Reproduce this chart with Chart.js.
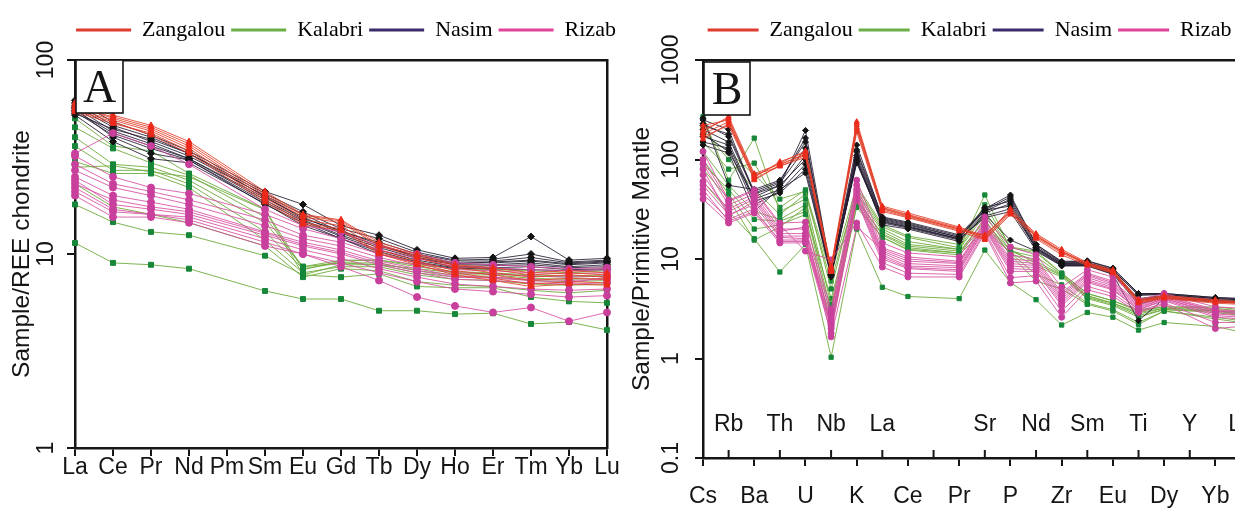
<!DOCTYPE html>
<html>
<head>
<meta charset="utf-8">
<script src="https://cdn.jsdelivr.net/npm/chart.js@4.4.0/dist/chart.umd.min.js"></script>
<style>
  html, body { margin: 0; padding: 0; background: #fff; overflow: hidden; }
  body { width: 1235px; height: 509px; position: relative; }
  .panel { position: absolute; top: 0; height: 509px; }
  #panelA { left: 0; width: 692px; }
  #panelB { left: 617px; width: 705px; }
</style>
</head>
<body>
<div class="panel" id="panelA"><canvas id="reeChart"></canvas></div>
<div class="panel" id="panelB"><canvas id="spiderChart"></canvas></div>
<script>
// --- element orders ---
const reeLabels = ['La', 'Ce', 'Pr', 'Nd', 'Pm', 'Sm', 'Eu', 'Gd', 'Tb', 'Dy', 'Ho', 'Er', 'Tm', 'Yb', 'Lu'];
const spiderLabels = ['Cs', 'Rb', 'Ba', 'Th', 'U', 'Nb', 'K', 'La', 'Ce', '', 'Pr', 'Sr', 'P', 'Nd', 'Zr', 'Sm', 'Eu', 'Ti', 'Dy', 'Y', 'Yb', 'Lu'];
const reeTicks = [1, 10, 100];
const spiderTicks = [0.1, 1, 10, 100, 1000];
const groupNames = ['Zangalou', 'Kalabri', 'Nasim', 'Rizab'];

// --- chondrite-normalised REE (Pm not analysed) ---
const reeZangalou = [
  [60, 52, 46, 38, null, 21, 16, 15, 11.5, 10, 8.8, 8.5, 8.0, 8.2, 8.0],
  [58, 50, 44, 36, null, 20, 15.5, 14.5, 11, 9.6, 8.5, 8.0, 7.6, 7.8, 7.6],
  [56, 49, 43, 35, null, 19.5, 15, 14, 10.5, 9.2, 8.2, 7.8, 7.3, 7.5, 7.4],
  [54, 47, 42, 34, null, 19, 14.5, 13.5, 10.2, 9.0, 8.0, 7.5, 7.0, 7.2, 7.1],
  [57, 51, 45, 37, null, 20.5, 15.8, 14.8, 11.2, 9.8, 8.7, 8.3, 7.8, 8.0, 7.8],
  [55, 48, 41, 33, null, 18.5, 14.2, 13.2, 10.0, 8.8, 7.8, 7.3, 6.8, 7.0, 6.9]
];
const reeKalabri = [
  [11.4, 9.0, 8.8, 8.4, null, 6.45, 5.86, 5.86, 5.1, 5.1, 4.9, 4.95, 4.36, 4.46, 4.06],
  [18, 14.6, 13.0, 12.5, null, 9.8, 7.8, 7.6, 7.9, 6.8, 6.7, 6.7, 6.0, 5.7, 5.6],
  [23, 17.5, 16, 14.5, null, 11, 7.6, 8.4, 8.2, 7.2, 6.9, 6.8, 6.5, 6.3, 6.5],
  [30, 26, 26, 22, null, 11.8, 8.0, 8.6, 8.6, 7.8, 7.4, 7.3, 7.0, 6.9, 7.0],
  [36, 27, 27, 23, null, 13, 8.4, 9.0, 9.0, 8.2, 7.8, 7.8, 7.5, 7.4, 7.5],
  [40, 29, 28, 24, null, 14.5, 8.6, 9.3, 9.3, 8.6, 8.1, 8.0, 7.8, 7.7, 7.8],
  [45, 35, 29.5, 25.5, null, 15.5, 8.6, 9.0, 8.8, 8.4, 8.0, 7.9, 7.7, 7.6, 7.7],
  [50, 36, 34, 26, null, 17, 8.3, 9.2, 9.3, 8.8, 8.4, 8.3, 8.2, 8.0, 8.2],
  [28, 28.5, 26.5, 25, null, 16.9, 7.8, 8.8, 8.8, 8.0, 7.6, 7.6, 7.3, 7.2, 7.3]
];
const reeNasim = [
  [62, 48, 41, 34, null, 21, 18, 14, 12.5, 10.5, 9.5, 9.6, 12.3, 9.3, 9.5],
  [60, 46, 40, 33, null, 20.5, 16.5, 13.5, 12, 10.2, 9.3, 9.4, 10, 9.1, 9.3],
  [58, 45, 38, 32, null, 20, 16, 13, 11.5, 10, 9.2, 9.2, 9.6, 9.0, 9.2],
  [57, 43, 37, 31, null, 19.5, 15.5, 12.8, 11, 9.8, 9.0, 9.0, 9.2, 8.8, 9.0],
  [55, 42, 36, 31, null, 19, 15, 12.5, 10.8, 9.5, 8.8, 8.8, 9.0, 8.6, 8.8],
  [54, 41, 35, 30.5, null, 18.5, 14.8, 12.3, 10.5, 9.3, 8.6, 8.7, 8.8, 8.5, 8.6],
  [56, 40, 33, 30.5, null, 18, 14.5, 12, 10.3, 9.1, 8.5, 8.5, 8.6, 8.3, 8.4],
  [53, 44, 39, 33, null, 19.8, 15.2, 13.2, 11.2, 9.6, 8.9, 9.1, 9.3, 8.9, 9.1],
  [52, 38, 31, 29.5, null, 18.2, 14, 12, 10, 9, 8.4, 8.4, 8.3, 8.2, 8.3]
];
const reeRizab = [
  [33, 42, 36, 29, null, 17, 14, 13, 11, 10, 9, 8.8, 8.6, 8.4, 8.5],
  [32, 25, 22, 20.5, null, 16, 13.5, 12, 10.5, 9.5, 8.6, 8.5, 8.3, 8.2, 8.3],
  [29, 23, 21, 19, null, 15, 12.5, 11.5, 10, 9, 8.3, 8.2, 8.0, 7.9, 8.0],
  [27, 22, 20, 18, null, 14, 12, 11, 9.6, 8.7, 8.0, 7.9, 7.7, 7.6, 7.7],
  [25, 20, 18.5, 17, null, 13, 11.5, 10.5, 9.2, 8.4, 7.7, 7.6, 7.4, 7.3, 7.4],
  [24, 18, 17, 16, null, 12.5, 11, 10, 8.8, 8.0, 7.4, 7.3, 7.1, 7.0, 7.1],
  [22, 17, 16, 15.5, null, 12, 10.5, 9.5, 8.4, 7.6, 7.0, 6.8, 6.6, 6.5, 6.6],
  [21, 16.5, 16, 15, null, 11.5, 10, 9, 8, 7.2, 6.6, 6.4, 6.2, 6.0, 6.1],
  [20, 15.5, 15.5, 14.5, null, 11, 10, 8.6, 7.3, 6.0, 5.4, 5.0, 5.3, 4.5, 5.0],
  [23, 19, 17.5, 16.5, null, 12.8, 11.2, 10.2, 9.0, 8.2, 7.6, 7.5, 7.3, 7.1, 7.6]
];

// --- primitive-mantle-normalised trace elements (no Pb, no Y) ---
const pmZangalou = [
  [200, 260, 68, 92, 122, 8.5, 240, 34, 29, null, 21, 17, 31, 18, 12.5, 9.2, 7.8, 3.9, 4.3, null, 3.9, 3.7],
  [180, 240, 62, 88, 115, 8.0, 220, 32, 27, null, 20, 16, 29, 17, 12, 9.0, 7.5, 3.8, 4.2, null, 3.8, 3.6],
  [160, 230, 70, 85, 110, 7.8, 200, 31, 26.5, null, 19.5, 17.5, 30, 16.5, 11.5, 8.8, 7.3, 3.7, 4.1, null, 3.7, 3.6],
  [220, 250, 66, 95, 118, 8.2, 210, 33, 28, null, 20.5, 16.5, 32, 17.5, 12, 9.0, 7.6, 3.8, 4.2, null, 3.8, 3.7],
  [190, 270, 72, 90, 112, 7.6, 190, 30, 26, null, 19, 15.5, 28, 16, 11, 8.6, 7.2, 3.6, 4.0, null, 3.6, 3.5],
  [170, 220, 64, 86, 105, 7.4, 230, 32.5, 27.5, null, 20, 16, 30, 17, 11.8, 8.9, 7.4, 3.7, 4.1, null, 3.7, 3.6]
];
const pmKalabri = [
  [60, 30, 16, 7.4, 14, 1.03, 20, 5.2, 4.2, null, 4.0, 12.3, 5.8, 3.9, 2.17, 2.9, 2.6, 1.93, 2.3, null, 2.1, 1.85],
  [100, 45, 20, 22, 28, 2.0, 35, 16.5, 12.5, null, 11.5, 25, 11, 6.0, 5.0, 3.5, 3.0, 2.2, 3.0, null, 2.6, 2.4],
  [270, 62, 164, 30, 40, 3.5, 45, 19, 14, null, 12.5, 44, 12.5, 9, 6.8, 4.2, 3.6, 2.8, 3.2, null, 3.0, 2.8],
  [150, 80, 92, 33, 49.5, 5.0, 52, 21, 16.5, null, 13, 30, 13, 11.5, 7.2, 4.5, 3.8, 3.0, 3.3, null, 3.2, 3.0],
  [120, 55, 30, 25, 35, 3.0, 40, 17.5, 13, null, 11.5, 22, 11.5, 8.5, 6.6, 4.0, 3.4, 2.6, 3.1, null, 2.9, 2.7],
  [200, 100, 50, 28, 45, 6.0, 48, 20, 15, null, 12.5, 28, 12, 10.5, 7.0, 4.3, 3.6, 2.9, 3.2, null, 3.1, 2.9],
  [80, 40, 15.5, 21, 33, 2.5, 33, 16.5, 12.3, null, 11, 20, 11.5, 7.0, 5.5, 3.6, 3.1, 2.3, 3.0, null, 2.5, 2.3],
  [180, 120, 70, 40, 48, 7.0, 55, 22, 17, null, 14, 35, 13.2, 12, 7.2, 4.5, 3.8, 3.1, 3.3, null, 3.3, 3.1],
  [90, 50, 25, 24, 30, 4.0, 38, 18, 13.5, null, 12, 24, 12, 9.5, 6.9, 4.1, 3.5, 2.7, 3.1, null, 3.0, 2.8]
];
const pmNasim = [
  [250, 200, 45, 55, 196, 7.5, 140, 26, 23, null, 17, 31, 42, 14, 9.5, 9.5, 8.0, 4.5, 4.5, null, 4.1, 4.0],
  [220, 180, 48, 60, 164, 7.2, 120, 25, 22, null, 16.5, 30, 40, 13.5, 9.2, 9.2, 7.8, 4.3, 4.4, null, 4.0, 3.9],
  [200, 150, 40, 50, 73, 6.8, 105, 24, 21, null, 16, 33, 38, 13, 9, 9, 7.5, 4.0, 4.3, null, 3.9, 3.8],
  [180, 120, 42, 55, 100, 7.0, 95, 23, 20.5, null, 15.5, 29, 36, 12.5, 8.8, 8.8, 7.3, 3.8, 4.2, null, 3.8, 3.7],
  [150, 130, 35, 48, 90, 6.6, 100, 22, 20, null, 15, 28, 15.5, 12, 8.5, 8.5, 7.0, 2.4, 4.0, null, 3.7, 3.6],
  [260, 55, 50, 62, 150, 7.7, 110, 25.5, 22.5, null, 16.5, 31, 34, 13, 9, 9.2, 7.7, 4.4, 4.4, null, 4.0, 3.9],
  [170, 140, 38, 46, 80, 6.9, 92, 23.5, 21, null, 15.8, 27, 32, 12.8, 8.7, 8.7, 7.2, 3.9, 4.2, null, 3.8, 3.7],
  [230, 170, 46, 58, 130, 7.3, 125, 26.5, 23.5, null, 17.5, 32, 44, 14, 9.3, 9.6, 8.1, 4.5, 4.5, null, 4.1, 4.0],
  [140, 116, 30, 52, 110, 7.0, 98, 24.5, 21.5, null, 16, 26, 30, 12.2, 8.6, 8.6, 7.1, 3.5, 4.1, null, 3.8, 3.7]
];
const pmRizab = [
  [120, 39, 49.5, 23, 23.5, 3.1, 62, 14.5, 11.5, null, 10.5, 26.5, 13.2, 11, 5.2, 7.8, 6.6, 3.9, 4.5, null, 3.3, 3.2],
  [90, 35, 45, 20, 20, 2.8, 55, 13, 10.5, null, 9.5, 24, 11, 10, 4.6, 7.2, 6.0, 3.6, 4.3, null, 3.1, 3.0],
  [70, 30, 40, 18, 18, 2.5, 50, 12, 9.5, null, 9, 22, 9.5, 9, 4.2, 6.8, 5.6, 3.4, 4.1, null, 3.0, 2.9],
  [55, 28, 35, 16.5, 16, 2.2, 45, 11, 8.5, null, 8.2, 21, 8.5, 8.2, 3.8, 6.2, 5.2, 3.2, 4.0, null, 2.8, 2.7],
  [45, 25, 32, 15, 15, 2.0, 40, 10, 8, null, 7.5, 20, 7.5, 7.5, 3.4, 5.8, 4.9, 3.1, 3.8, null, 2.6, 2.5],
  [40, 23, 29, 14.5, 14.5, 1.8, 39, 9.2, 7.2, null, 7, 19, 6.5, 6.8, 3.0, 5.3, 4.5, 3.0, 3.6, null, 2.3, 2.3],
  [100, 38, 48, 22, 12, 9.8, 23, 8.3, 6.6, null, 6.6, 18.2, 5.75, 6.0, 2.6, 4.9, 4.2, 2.9, 3.5, null, 2.0, 2.1],
  [60, 32, 42, 19, 21, 1.65, 21, 12.5, 10, null, 9.2, 23, 10, 9.5, 4.4, 7.0, 5.8, 3.5, 4.2, null, 3.0, 2.9],
  [80, 27, 38, 17, 17, 2.4, 48, 11.5, 9, null, 8.5, 21.5, 9, 8.6, 4.0, 6.5, 5.4, 3.3, 4.0, null, 2.9, 2.8],
  [50, 24, 30, 15.5, 15.5, 2.1, 42, 10.5, 8.2, null, 7.8, 20.5, 8, 7.8, 3.6, 6.0, 5.0, 3.1, 3.9, null, 2.7, 2.6]
];

// --- look of each locality ---
const groupStyle = {
  Zangalou: { line: 'rgba(226,62,40,0.85)', point: '#ec2a1c', shape: 'triangle', key: '#e03b2f' },
  Kalabri:  { line: 'rgba(112,172,62,0.9)', point: '#17873a', shape: 'rect',     key: '#6aae45' },
  Nasim:    { line: 'rgba(34,26,48,0.85)',  point: '#141414', shape: 'rectRot',  key: '#3b2d6b' },
  Rizab:    { line: 'rgba(214,78,160,0.85)', point: '#c8409c', shape: 'circle',  key: '#e0449a' }
};
const drawOrder = ['Zangalou', 'Rizab', 'Nasim', 'Kalabri'];   // first = on top

const sansFont = '"Liberation Sans", Arial, sans-serif';
const serifFont = '"Liberation Serif", "Times New Roman", serif';
const ink = '#151515';
const tickSize = 23;
const titleSize = 24.5;

function makeSets(byGroup, radius) {
  const sets = [];
  drawOrder.forEach(name => {
    const st = groupStyle[name];
    byGroup[name].forEach(row => {
      sets.push({
        label: name,
        data: row,
        borderColor: st.line,
        borderWidth: 1,
        pointStyle: st.shape,
        pointRadius: radius,
        pointBackgroundColor: st.point,
        pointBorderColor: st.point,
        pointBorderWidth: 1,
        spanGaps: true,
        tension: 0,
        fill: false
      });
    });
  });
  return sets;
}

function legendOpts(keyWidth) {
  return {
    display: true,
    position: 'top',
    align: 'center',
    onClick: null,
    labels: {
      boxWidth: keyWidth,
      boxHeight: 3,
      padding: 6,
      color: '#222',
      font: { family: serifFont, size: 22 },
      generateLabels: () => groupNames.map(n => ({
        text: n, fillStyle: groupStyle[n].key, strokeStyle: groupStyle[n].key, lineWidth: 0, hidden: false
      }))
    }
  };
}

// boxed panel letter in the upper-left corner of the plot
const panelTag = {
  id: 'panelTag',
  afterDatasetsDraw(chart, args, opts) {
    const { left, top } = chart.chartArea;
    const ctx = chart.ctx;
    const x = left + 1, y = top + opts.dy;
    ctx.save();
    ctx.fillStyle = '#fff';
    ctx.fillRect(x, y, opts.w, opts.h);
    ctx.strokeStyle = ink;
    ctx.lineWidth = 1.6;
    ctx.strokeRect(x, y, opts.w, opts.h);
    ctx.fillStyle = ink;
    ctx.font = '46px ' + serifFont;
    ctx.textAlign = 'center';
    ctx.textBaseline = 'middle';
    ctx.fillText(opts.text, x + opts.w / 2, y + opts.h / 2 + 3);
    ctx.restore();
  }
};

// odd elements of the spider diagram: tick points up, name sits inside the plot
const innerTicks = {
  id: 'innerTicks',
  afterDraw(chart, args, opts) {
    if (!opts.labels) return;
    const sx = chart.scales.x;
    const ctx = chart.ctx;
    ctx.save();
    ctx.strokeStyle = ink;
    ctx.lineWidth = 2;
    ctx.fillStyle = ink;
    ctx.font = tickSize + 'px ' + sansFont;
    ctx.textAlign = 'center';
    ctx.textBaseline = 'middle';
    opts.labels.forEach((lab, i) => {
      if (i % 2 === 0) return;
      const px = sx.getPixelForValue(i);
      ctx.beginPath();
      ctx.moveTo(px, sx.top);
      ctx.lineTo(px, sx.top - 8);
      ctx.stroke();
      if (lab) ctx.fillText(lab, px, sx.top - 33);
    });
    ctx.restore();
  }
};

function frameAxes(topHeight, rightWidth) {
  return {
    xTop: {
      type: 'category', position: 'top', display: true,
      ticks: { display: false }, grid: { display: false },
      border: { display: true, color: ink, width: 2.5 },
      afterFit: s => { s.height = Math.max(0, topHeight - s.chart.legend.height); }
    },
    yRight: {
      type: 'linear', position: 'right', display: true,
      ticks: { display: false }, grid: { display: false },
      border: { display: true, color: ink, width: 2.5 },
      afterFit: s => { s.width = rightWidth; }
    }
  };
}

function logAxis(min, max, tickVals, title, width, titlePad, tickPad) {
  return {
    type: 'logarithmic', position: 'left', min, max,
    afterBuildTicks: s => { s.ticks = tickVals.map(v => ({ value: v })); },
    ticks: {
      minRotation: 90, maxRotation: 90, crossAlign: 'center', padding: tickPad,
      color: ink, font: { family: sansFont, size: tickSize },
      callback: v => String(v)
    },
    grid: { display: true, drawOnChartArea: false, drawTicks: true, tickLength: 8, color: ink, lineWidth: 2 },
    border: { display: true, color: ink, width: 2.5 },
    title: { display: true, text: title, color: ink, font: { family: sansFont, size: titleSize }, padding: { top: titlePad, bottom: 0 } },
    afterFit: s => { s.width = width; }
  };
}

// ---------- A: REE chondrite-normalised ----------
new Chart(document.getElementById('reeChart'), {
  type: 'line',
  data: {
    labels: reeLabels,
    datasets: makeSets({ Zangalou: reeZangalou, Kalabri: reeKalabri, Nasim: reeNasim, Rizab: reeRizab }, 3.5)
  },
  options: {
    responsive: true, maintainAspectRatio: false, animation: false,
    layout: { padding: { top: 13, left: 0, right: 0, bottom: 0 } },
    plugins: {
      legend: legendOpts(55),
      tooltip: { enabled: false },
      panelTag: { text: 'A', w: 47, h: 53, dy: 0 }
    },
    scales: Object.assign({
      x: {
        type: 'category', position: 'bottom', offset: false,
        grid: { display: true, drawOnChartArea: false, drawTicks: true, tickLength: 8, color: ink, lineWidth: 2, offset: false },
        border: { display: true, color: ink, width: 2.5 },
        ticks: { autoSkip: false, maxRotation: 0, padding: -2, color: ink, font: { family: sansFont, size: tickSize } },
        afterFit: s => { s.height = 61; }
      },
      y: logAxis(1, 100, reeTicks, 'Sample/REE chondrite', 75, 8, 1)
    }, frameAxes(47, 85))
  },
  plugins: [panelTag]
});

// ---------- B: primitive-mantle spider diagram ----------
new Chart(document.getElementById('spiderChart'), {
  type: 'line',
  data: {
    labels: spiderLabels,
    datasets: makeSets({ Zangalou: pmZangalou, Kalabri: pmKalabri, Nasim: pmNasim, Rizab: pmRizab }, 3)
  },
  options: {
    responsive: true, maintainAspectRatio: false, animation: false,
    layout: { padding: { top: 13, left: 0, right: 0, bottom: 0 } },
    plugins: {
      legend: legendOpts(51),
      tooltip: { enabled: false },
      panelTag: { text: 'B', w: 46, h: 53, dy: 2 },
      innerTicks: { labels: spiderLabels }
    },
    scales: Object.assign({
      x: {
        type: 'category', position: 'bottom', offset: false,
        grid: {
          display: true, drawOnChartArea: false, drawTicks: true, tickLength: 8, lineWidth: 2, offset: false,
          color: c => (c.index % 2 === 0 ? ink : 'rgba(0,0,0,0)')
        },
        border: { display: true, color: ink, width: 2.5 },
        ticks: {
          autoSkip: false, maxRotation: 0, padding: 17, color: ink, font: { family: sansFont, size: tickSize },
          callback: (v, i) => (i % 2 === 0 ? spiderLabels[i] : '')
        },
        afterFit: s => { s.height = 51; }
      },
      y: logAxis(0.1, 1000, spiderTicks, 'Sample/Primitive Mantle', 86, 11, -2.6)
    }, frameAxes(47, 81))
  },
  plugins: [panelTag, innerTicks]
});
</script>
</body>
</html>
